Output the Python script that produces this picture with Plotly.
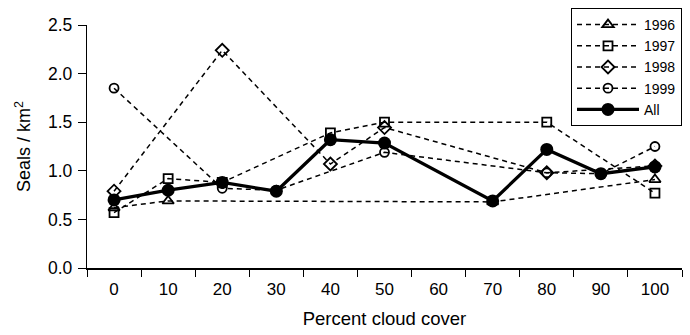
import plotly.graph_objects as go

categories = ["0", "10", "20", "30", "40", "50", "60", "70", "80", "90", "100"]
s1996 = [0.62, 0.69, None, None, None, None, None, 0.68, None, None, 0.91]
s1997 = [0.57, 0.92, 0.88, None, 1.39, 1.50, None, None, 1.50, None, 0.77]
s1998 = [0.79, None, 2.24, None, 1.07, 1.445, None, None, 0.98, None, 1.05]
s1999 = [1.85, None, 0.82, 0.80, None, 1.19, None, None, 0.98, 0.97, 1.25]
s_all = [0.70, 0.80, 0.88, 0.79, 1.32, 1.285, None, 0.69, 1.22, 0.97, 1.04]
y_ticks = [0, 0.5, 1.0, 1.5, 2.0, 2.5]
y_labels = ["0.0", "0.5", "1.0", "1.5", "2.0", "2.5"]

FONT = "Liberation Sans, Arial, Helvetica, sans-serif"
dash = "5px,4px"

fig = go.Figure()
series = [
    ("1996", s1996, "triangle-up-open", 10),
    ("1997", s1997, "square-open", 9),
    ("1998", s1998, "diamond-open", 10),
    ("1999", s1999, "circle-open", 9),
]
for name, vals, sym, size in series:
    fig.add_trace(go.Scatter(
        x=categories, y=vals, name=name, mode="lines+markers",
        connectgaps=True,
        line=dict(color="black", width=1.5, dash=dash),
        marker=dict(symbol=sym, size=size, color="black",
                    line=dict(color="black", width=1.8)),
    ))
fig.add_trace(go.Scatter(
    x=categories, y=s_all, name="All", mode="lines+markers",
    connectgaps=True,
    line=dict(color="black", width=3.3),
    marker=dict(symbol="circle", size=13, color="black"),
))

fig.update_layout(
    width=690, height=335,
    margin=dict(l=87, r=8, t=23, b=67),
    paper_bgcolor="white", plot_bgcolor="white",
    font=dict(family=FONT, size=17, color="black"),
    showlegend=True,
    legend=dict(
        x=1.0, y=1.07, xanchor="right", yanchor="top",
        bgcolor="white", bordercolor="black", borderwidth=1,
        font=dict(family=FONT, size=14, color="black"),
        itemwidth=62, tracegroupgap=0,
    ),
)
fig.update_xaxes(
    type="category", categoryorder="array", categoryarray=categories,
    range=[-0.5, 10.5], tickson="boundaries",
    showline=True, linecolor="black", linewidth=1.6,
    ticks="outside", ticklen=7, tickwidth=1.3, tickcolor="black",
    showgrid=False, zeroline=False,
    tickfont=dict(family=FONT, size=17),
    ticklabelstandoff=5,
    title=dict(text="Percent cloud cover", font=dict(family=FONT, size=18.5), standoff=14),
)
fig.update_yaxes(
    range=[0, 2.5], tickvals=y_ticks, ticktext=y_labels,
    showline=True, linecolor="black", linewidth=1.3,
    ticks="outside", ticklen=8, tickwidth=1.3, tickcolor="black",
    showgrid=False, zeroline=False,
    tickfont=dict(family=FONT, size=17.5),
    ticklabelstandoff=2,
    title=dict(text="Seals / km<sup>2</sup>", font=dict(family=FONT, size=18), standoff=12),
)

fig.write_html("out.html")
